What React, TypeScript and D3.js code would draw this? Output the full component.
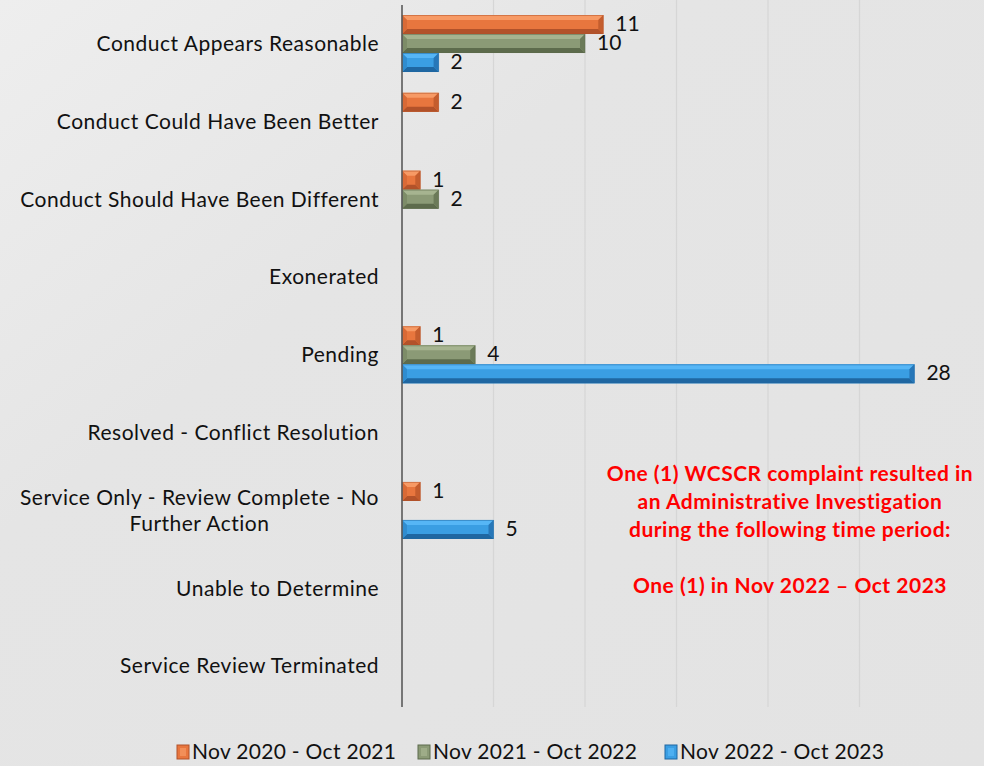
import React, { useEffect, useRef } from "react";
import * as d3 from "d3";

const categories = [
  ["Conduct Appears Reasonable"],
  ["Conduct Could Have Been Better"],
  ["Conduct Should Have Been Different"],
  ["Exonerated"],
  ["Pending"],
  ["Resolved - Conflict Resolution"],
  ["Service Only - Review Complete - No", "Further Action"],
  ["Unable to Determine"],
  ["Service Review Terminated"],
];
const seriesNames = ["Nov 2020 - Oct 2021", "Nov 2021 - Oct 2022", "Nov 2022 - Oct 2023"];
const series2021 = [11, 2, 1, 0, 1, 0, 1, 0, 0];
const series2022 = [10, 0, 2, 0, 4, 0, 0, 0, 0];
const series2023 = [2, 0, 0, 0, 28, 0, 5, 0, 0];
const xTicks = [0, 5, 10, 15, 20, 25];
const noteLines = [
  "One (1) WCSCR complaint resulted in",
  "an Administrative Investigation",
  "during the following time period:",
  "",
  "One (1) in Nov 2022 \u2013 Oct 2023",
];

const palettes = [
  { face: "#e8763e", top: "#f79a65", bottom: "#b2522a", right: "#c45d2e", left: "#d96a36" },
  { face: "#8b9a76", top: "#a6b490", bottom: "#5d6b4c", right: "#6b7a58", left: "#7d8c68" },
  { face: "#3a9ee3", top: "#56b6f6", bottom: "#1f67a2", right: "#2777b8", left: "#308dd0" },
];

export default function App() {
  const ref = useRef<SVGSVGElement>(null);
  useEffect(() => {
    const svg = d3.select(ref.current);
    svg.selectAll("*").remove();
    const W = 984, H = 766;
    const defs = svg.append("defs");
    const bg = defs.append("linearGradient").attr("id", "bg").attr("x1", 0).attr("y1", 0).attr("x2", 1).attr("y2", 1);
    bg.append("stop").attr("offset", 0).attr("stop-color", "#eeeeee");
    bg.append("stop").attr("offset", 0.35).attr("stop-color", "#e5e5e5");
    bg.append("stop").attr("offset", 1).attr("stop-color", "#e3e3e3");
    svg.append("rect").attr("width", W).attr("height", H).attr("fill", "url(#bg)");

    const x = d3.scaleLinear().domain([0, 30]).range([402, 951]);
    const y = d3.scaleBand<number>().domain(d3.range(categories.length)).range([4.6, 705]).padding(0);
    const inner = d3.scaleBand<number>().domain([0, 1, 2]).range([-28.5, 28.5]).padding(0);

    svg.append("g").selectAll("line").data(xTicks.filter((t) => t > 0)).join("line")
      .attr("x1", (d) => x(d)).attr("x2", (d) => x(d)).attr("y1", 0).attr("y2", 707)
      .attr("stroke", "#d6d6d6").attr("stroke-width", 1.2);

    const font = "Lato, 'Open Sans', sans-serif";
    const labG = svg.append("g").attr("font-family", font).attr("font-size", 21)
      .attr("letter-spacing", 0.5).attr("fill", "#111");
    categories.forEach((lines, i) => {
      const cy = y(i)! + y.bandwidth() / 2;
      const lh = 26;
      const texts = lines.map((ln, j) =>
        labG.append("text").text(ln).attr("y", cy + (j - (lines.length - 1) / 2) * lh).attr("dy", "0.35em")
      );
      const widths = texts.map((t) => (t.node() as SVGTextElement).getComputedTextLength());
      const maxW = Math.max(...widths);
      const xc = 379 - maxW / 2;
      texts.forEach((t) => t.attr("x", lines.length > 1 ? xc : 379).attr("text-anchor", lines.length > 1 ? "middle" : "end"));
    });

    const allSeries = [series2021, series2022, series2023];
    const barG = svg.append("g");
    const valG = svg.append("g").attr("font-family", font).attr("font-size", 21).attr("fill", "#111");
    allSeries.forEach((vals, s) => {
      const p = palettes[s];
      vals.forEach((v, i) => {
        if (!v) return;
        const x0 = x(0), x1 = x(v);
        const t = y(i)! + y.bandwidth() / 2 + inner(s)!;
        const h = inner.bandwidth();
        const b = Math.min(5, (x1 - x0) / 2);
        const bv = 5;
        const g = barG.append("g");
        g.append("rect").attr("x", x0).attr("y", t).attr("width", x1 - x0).attr("height", h).attr("fill", p.face);
        const poly = (pts: number[][], c: string) =>
          g.append("polygon").attr("points", pts.map((q) => q.join(",")).join(" ")).attr("fill", c);
        poly([[x0, t], [x1, t], [x1 - b, t + bv], [x0 + b, t + bv]], p.top);
        poly([[x0, t + h], [x1, t + h], [x1 - b, t + h - bv], [x0 + b, t + h - bv]], p.bottom);
        poly([[x1, t], [x1, t + h], [x1 - b, t + h - bv], [x1 - b, t + bv]], p.right);
        poly([[x0, t], [x0, t + h], [x0 + b, t + h - bv], [x0 + b, t + bv]], p.left);
        g.append("rect").attr("x", x0).attr("y", t + 0.5).attr("width", x1 - x0).attr("height", h - 1)
          .attr("fill", "none").attr("stroke", p.bottom).attr("stroke-opacity", 0.5).attr("stroke-width", 1);
        valG.append("text").text(String(v)).attr("x", x1 + 12).attr("y", t + h / 2 - 1).attr("dy", "0.35em");
      });
    });

    svg.append("line").attr("x1", x(0)).attr("x2", x(0)).attr("y1", 5).attr("y2", 707)
      .attr("stroke", "#5a5a5a").attr("stroke-width", 1.6);

    const noteG = svg.append("g").attr("font-family", font).attr("font-size", 21).attr("font-weight", "bold")
      .attr("letter-spacing", 0.5).attr("fill", "#ff0000").attr("text-anchor", "middle");
    noteLines.forEach((ln, j) => {
      if (!ln) return;
      noteG.append("text").text(ln).attr("x", 790).attr("y", 474 + j * 27.8).attr("dy", "0.35em");
    });

    const legX = [177, 418, 665];
    const legG = svg.append("g").attr("font-family", font).attr("font-size", 21)
      .attr("letter-spacing", 0.3).attr("fill", "#111");
    seriesNames.forEach((n, s) => {
      const p = palettes[s];
      const lx = legX[s];
      legG.append("rect").attr("x", lx).attr("y", 745).attr("width", 12).attr("height", 14).attr("fill", p.face);
      legG.append("rect").attr("x", lx + 3).attr("y", 748).attr("width", 6).attr("height", 8).attr("fill", p.top).attr("opacity", 0.7);
      legG.append("rect").attr("x", lx).attr("y", 745).attr("width", 12).attr("height", 14).attr("fill", "none").attr("stroke", p.bottom).attr("stroke-width", 1);
      legG.append("text").text(n).attr("x", lx + 15).attr("y", 752).attr("dy", "0.35em");
    });
  }, []);
  return (
    <svg ref={ref} width={984} height={766} style={{ position: "absolute", left: 0, top: 0, display: "block" }} />
  );
}
